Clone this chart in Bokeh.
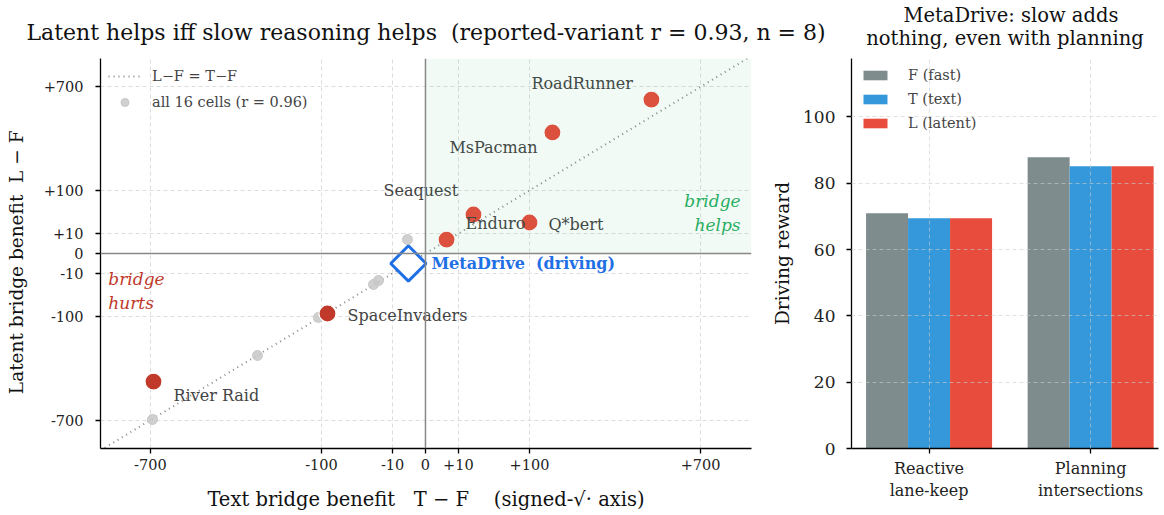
import numpy as np
from bokeh.plotting import figure
from bokeh.layouts import row
from bokeh.models import (ColumnDataSource, FixedTicker, Span, BoxAnnotation, Label,
                          Legend, LegendItem, Range1d)
from bokeh.core.properties import value
from bokeh.embed import file_html
from bokeh.resources import INLINE

# ---------------- data ----------------
games = ["RoadRunner", "MsPacman", "Seaquest", "Enduro", "Q*bert", "SpaceInvaders", "River Raid"]
text_benefit = [472, 149, 4.1, 21.3, 100, -88.8, -684]      # T - F
latent_benefit = [597, 369, 4.9, 38.3, 24.2, -90.7, -413]   # L - F
game_hurts = [False, False, False, False, False, True, True]

cells_text = [-689, -261, -106, -25, -20.4, -3.0, 472, 149, 4.1, 21.3, 100, -88.8, -684, -2.7]
cells_latent = [-694, -262, -103, -24.2, -18.4, 4.9, 597, 369, 4.9, 38.3, 24.2, -90.7, -413, -2.5]

metadrive_text = -2.7
metadrive_latent = -2.5

tick_values = [-700, -100, -10, 0, 10, 100, 700]
tick_labels = ["-700", "-100", "-10", "0", "+10", "+100", "+700"]

tasks = ["Reactive\nlane-keep", "Planning\nintersections"]
reward_F = [70.9, 87.8]
reward_T = [69.4, 85.1]
reward_L = [69.4, 85.1]

# label offsets in pixels (layout)
label_dx = [-120, -103, -63, -8, 19, 20, 20]
label_dy = [-16, 15, -49, 9, 2, 2, 14]

SERIF = "DejaVu Serif"
NB = "\u00a0"


def ss(v):
    v = np.asarray(v, dtype=float)
    return np.sign(v) * np.sqrt(np.abs(v))


# ---------------- left scatter ----------------
XR = (-31.25, 31.35)
YR = (-30.95, 30.95)
p = figure(frame_width=651, frame_height=390, min_border_left=100, min_border_right=89,
           min_border_top=65, min_border_bottom=55,
           x_range=Range1d(*XR), y_range=Range1d(*YR),
           output_backend="svg", toolbar_location=None,
           title="Latent helps iff slow reasoning helps" + NB + NB + "(reported-variant r = 0.93, n = 8)")
p.outline_line_color = None
p.border_fill_alpha = 0
p.title.text_font = SERIF
p.title.text_font_size = "22px"
p.title.text_font_style = "normal"
p.title.text_color = "#111111"
p.title.align = "center"
p.title.standoff = 27

tv = ss(tick_values)
for ax, lab in ((p.xaxis, "Text bridge benefit" + NB * 3 + "T − F" + NB * 4 + "(signed-√· axis)"),
                (p.yaxis, "Latent bridge benefit" + NB * 2 + "L − F" + NB * 3)):
    ax.ticker = FixedTicker(ticks=list(tv))
    ax.major_label_overrides = {float(t): l for t, l in zip(tv, tick_labels)}
    ax.axis_label = lab
    ax.axis_label_text_font = SERIF
    ax.axis_label_text_font_style = "normal"
    ax.axis_label_text_color = "#111111"
    ax.major_label_text_font = SERIF
    ax.major_label_text_font_size = "14.5px"
    ax.minor_tick_line_color = None
    ax.major_tick_in = 0
    ax.major_tick_out = 5
    ax.axis_line_width = 1.3
    ax.major_tick_line_width = 1.3
    ax.axis_line_color = "black"
    ax.major_label_text_color = "#222222"
p.xaxis.axis_label_text_font_size = "19.5px"
p.yaxis.axis_label_text_font_size = "18.5px"
p.yaxis.major_label_standoff = 12
p.yaxis.axis_label_standoff = 14
p.xaxis.axis_label_standoff = 15
for g in (p.xgrid, p.ygrid):
    g.ticker = FixedTicker(ticks=list(tv))
    g.grid_line_color = "#dddddd"
    g.grid_line_dash = "4 3"

p.add_layout(BoxAnnotation(left=0, bottom=0, fill_color="#27ae60", fill_alpha=0.06, line_color=None))
p.add_layout(Span(location=0, dimension="width", line_color="#888888", line_width=1.5))
p.add_layout(Span(location=0, dimension="height", line_color="#888888", line_width=1.5))

diag = p.line(x=[XR[0], XR[1]], y=[XR[0], XR[1]], line_color="#888888", line_width=2,
              line_dash="1 4")

gs = ColumnDataSource(dict(x=ss(cells_text), y=ss(cells_latent)))
gray = p.scatter("x", "y", source=gs, size=10, fill_color="#c8c8c8", line_color="#c8c8c8",
                 fill_alpha=0.85)

colors = ["#c0392b" if h else "#e74c3c" for h in game_hurts]
rs = ColumnDataSource(dict(x=ss(text_benefit), y=ss(latent_benefit), c=colors, name=games,
                           dx=label_dx, dy=label_dy))
p.scatter("x", "y", source=rs, size=17, fill_color="c", line_color="white", line_width=1.2)
p.text("x", "y", text="name", source=rs, x_offset="dx", y_offset="dy",
       text_font=value(SERIF), text_font_size="16px", text_color="#444444",
       text_align="left", text_baseline="middle")

p.scatter(x=[ss(metadrive_text)], y=[ss(metadrive_latent)], marker="square", angle=np.pi / 4,
          size=25, fill_color="white", line_color="#1f6fe5", line_width=3)
p.text(x=[ss(metadrive_text)], y=[ss(metadrive_latent)], text=["MetaDrive" + NB * 2 + "(driving)"],
       x_offset=23, y_offset=0, text_font=value(SERIF), text_font_size="16px",
       text_font_style="bold", text_color="#1f6fe5", text_align="left", text_baseline="middle")

p.add_layout(Label(x=30.3, y=6.35, text="bridge\nhelps", text_font=SERIF, text_font_size="17px",
                   text_font_style="italic", text_color="#27ae60", text_align="right",
                   text_baseline="middle"))
p.add_layout(Label(x=-30.5, y=-6.0, text="bridge\nhurts", text_font=SERIF, text_font_size="17px",
                   text_font_style="italic", text_color="#c0392b", text_align="left",
                   text_baseline="middle"))

leg = Legend(items=[LegendItem(label="L−F = T−F", renderers=[diag]),
                    LegendItem(label="all 16 cells (r = 0.96)", renderers=[gray])],
             location="top_left", border_line_color=None, background_fill_alpha=0,
             label_text_font=SERIF, label_text_font_size="14.5px", spacing=6, padding=5,
             margin=8, glyph_width=33, label_standoff=11)
p.add_layout(leg)

# ---------------- right bars ----------------
q = figure(frame_width=307, frame_height=390, min_border_left=91, min_border_right=4,
           min_border_top=65, min_border_bottom=55,
           x_range=Range1d(-0.48, 1.42), y_range=Range1d(0, 117.6),
           output_backend="svg", toolbar_location=None, margin=(0, 0, 0, -80),
           title=NB * 6 + "MetaDrive: slow adds\nnothing, even with planning")
q.outline_line_color = None
q.border_fill_alpha = 0
q.background_fill_alpha = 0
q.title.text_font = SERIF
q.title.text_font_size = "19.5px"
q.title.text_font_style = "normal"
q.title.text_color = "#111111"
q.title.align = "center"
q.title.standoff = 18

xi = np.arange(len(tasks))
bw = 0.26
q.vbar(x=xi - bw, top=reward_F, width=bw, fill_color="#7f8c8d", line_color=None, legend_label="F (fast)")
q.vbar(x=xi, top=reward_T, width=bw, fill_color="#3498db", line_color=None, legend_label="T (text)")
q.vbar(x=xi + bw, top=reward_L, width=bw, fill_color="#e74c3c", line_color=None, legend_label="L (latent)")

q.xaxis.ticker = FixedTicker(ticks=[0, 1])
q.xaxis.major_label_overrides = {0: tasks[0], 1: tasks[1]}
q.yaxis.ticker = FixedTicker(ticks=[0, 20, 40, 60, 80, 100])
q.yaxis.axis_label = "Driving reward"
for ax in (q.xaxis, q.yaxis):
    ax.axis_label_text_font = SERIF
    ax.axis_label_text_font_size = "18.5px"
    ax.axis_label_text_font_style = "normal"
    ax.axis_label_text_color = "#111111"
    ax.major_label_text_font = SERIF
    ax.minor_tick_line_color = None
    ax.major_tick_in = 0
    ax.major_tick_out = 5
    ax.axis_line_width = 1.3
    ax.major_tick_line_width = 1.3
    ax.major_label_text_color = "#222222"
q.yaxis.major_label_text_font_size = "17px"
q.yaxis.major_label_standoff = 11
q.yaxis.axis_label_standoff = 7
q.xaxis.major_label_text_font_size = "16px"
for g in (q.xgrid, q.ygrid):
    g.grid_line_color = "#cccccc"
    g.grid_line_dash = "4 3"
    g.grid_line_alpha = 0.6
    g.level = "overlay"
q.xgrid.ticker = FixedTicker(ticks=[0, 1])
q.ygrid.ticker = FixedTicker(ticks=[0, 20, 40, 60, 80, 100])

q.legend.location = "top_left"
q.legend.border_line_color = None
q.legend.background_fill_alpha = 0
q.legend.label_text_font = SERIF
q.legend.label_text_font_size = "14.5px"
q.legend.glyph_width = 30
q.legend.glyph_height = 12
q.legend.spacing = 8
q.legend.padding = 5
q.legend.margin = 9
q.legend.label_standoff = 18

layout = row(p, q, margin=(-8, 0, 0, 0))
open("out.html", "w").write(file_html(layout, INLINE))
